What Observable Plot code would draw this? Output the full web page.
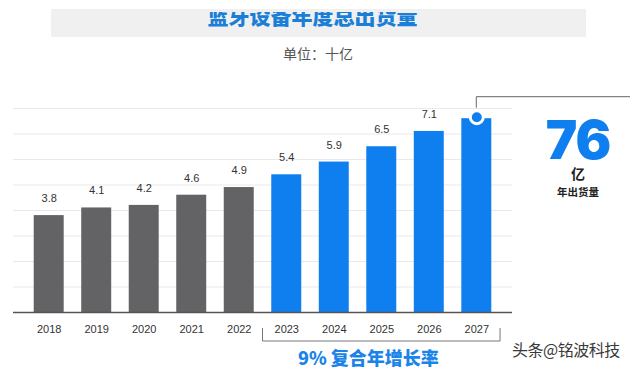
<!DOCTYPE html>
<html>
<head>
<meta charset="utf-8">
<script src="https://cdn.jsdelivr.net/npm/d3@7"></script>
<script src="https://cdn.jsdelivr.net/npm/@observablehq/plot@0.6"></script>
<style>
  html, body { margin: 0; padding: 0; background: #fff; }
  body { width: 640px; height: 368px; overflow: hidden; position: relative;
         font-family: "Liberation Sans", "Noto Sans CJK SC", sans-serif; }
  .abs { position: absolute; white-space: nowrap; }
  #band { left: 51px; top: 9px; width: 535px; height: 28px; background: #f0f0f0; }
  #titleclip { left: 51px; top: 11.5px; width: 535px; height: 25px; overflow: hidden; }
  #title { position: absolute; left: 0; width: 100%; top: -7px; text-align: center; padding-right: 12px; box-sizing: border-box;
           font-family: "Noto Sans CJK SC", sans-serif; font-weight: 900; font-size: 21px; line-height: 21px; color: #1b7fd8; }
  #subtitle { left: 0; width: 640px; top: 44px; text-align: center; padding-right: 4px; box-sizing: border-box;
              font-family: "Noto Sans CJK SC", sans-serif; font-size: 14px; line-height: 18px; color: #555; }
  #chart { left: 0; top: 70px; }
  #big { left: 530px; width: 96px; top: 119px; text-align: center; font-family: Inter, sans-serif; font-weight: 900;
         font-size: 53px; line-height: 42px; color: #0f7fef; letter-spacing: -1px; }
  #unit { left: 530px; width: 96px; top: 166px; text-align: center; font-family: "Noto Sans CJK SC", sans-serif; font-weight: 700;
          font-size: 14px; line-height: 15px; color: #222; }
  #unit2 { left: 530px; width: 96px; top: 185px; text-align: center; font-family: "Noto Sans CJK SC", sans-serif; font-weight: 700;
          font-size: 10.5px; line-height: 14px; color: #222; }
  #cagr { left: 298px; top: 348px; font-family: "Noto Sans CJK SC", sans-serif; font-weight: 900;
          font-size: 18px; line-height: 18px; color: #1b84e8; }
  #wm { left: 512px; top: 339px; font-family: "Noto Sans CJK SC", sans-serif; font-size: 16px; line-height: 20px;
        color: #3a3a3a; text-shadow: 0 0 2px #fff, 0 0 2px #fff; letter-spacing: -0.5px; }
</style>
</head>
<body>
<div id="band" class="abs"></div>
<div id="titleclip" class="abs"><div id="title">蓝牙设备年度总出货量</div></div>
<div id="subtitle" class="abs">单位：十亿</div>
<div id="chart" class="abs"></div>
<div id="big" class="abs">76</div>
<div id="unit" class="abs">亿</div>
<div id="unit2" class="abs">年出货量</div>
<div id="cagr" class="abs">9% 复合年增长率</div>
<div id="wm" class="abs">头条@铭波科技</div>
<script>
const years = ["2018","2019","2020","2021","2022","2023","2024","2025","2026","2027"];
const shipments = [3.8, 4.1, 4.2, 4.6, 4.9, 5.4, 5.9, 6.5, 7.1, 7.6];
const periods = ["历史","历史","历史","历史","历史","预测","预测","预测","预测","预测"];
const valueLabels = ["3.8","4.1","4.2","4.6","4.9","5.4","5.9","6.5","7.1",""];
const gridTicks = [1, 2, 3, 4, 5, 6, 7, 8];
const highlightYear = "2027";
const forecastStart = "2023";
const forecastEnd = "2027";

const data = years.map((y, i) => ({year: y, value: shipments[i], period: periods[i], label: valueLabels[i]}));
const last = data.find(d => d.year === highlightYear);

const BLUE = "#0f7fef", GRAY = "#636366";

const chart = Plot.plot({
  width: 640,
  height: 298,
  marginTop: 38,
  marginBottom: 56,
  marginLeft: 13,
  marginRight: 128,
  style: {fontFamily: "'Liberation Sans', 'Noto Sans CJK SC', sans-serif", background: "transparent"},
  x: {domain: years, paddingInner: 0.369, paddingOuter: 0.436, round: false, label: null},
  y: {domain: [0, 8], axis: null},
  color: {domain: ["历史","预测"], range: [GRAY, BLUE]},
  marks: [
    Plot.ruleY(gridTicks, {stroke: "#e9e9e9", strokeWidth: 1}),
    Plot.barY(data, {x: "year", y: "value", fill: "period"}),
    Plot.ruleY([0], {stroke: "#555", strokeWidth: 1.5}),
    Plot.text(data, {x: "year", y: "value", text: "label", dy: -17, fontSize: 11, fill: "#333"}),
    Plot.axisX({tickSize: 0, tickPadding: 13, fontSize: 11, color: "#333"}),
    Plot.dot([last], {x: "year", y: "value", r: 6.5, fill: BLUE, stroke: "#fff", strokeWidth: 3, dy: -1.5})
  ]
});
document.getElementById("chart").appendChild(chart);

// callout and bracket using the plot's own scales
const xs = chart.scale("x"), ys = chart.scale("y");
const svg = d3.select(chart);
const bw = xs.bandwidth, step = xs.step;
const cx = xs.apply(highlightYear) + bw / 2;
const cy = ys.apply(last.value) - 1.5;
svg.append("path")
  .attr("d", `M${cx},${cy - 9}V${cy - 20}H630`)
  .attr("fill", "none").attr("stroke", "#666").attr("stroke-width", 1);

const y0 = ys.apply(0);
const bx0 = xs.apply(forecastStart) - (step - bw) / 2;
const bx1 = xs.apply(forecastEnd) + bw + (step - bw) / 2;
svg.append("path")
  .attr("d", `M${bx0},${y0 + 16}V${y0 + 29}H${bx1}V${y0 + 16}`)
  .attr("fill", "none").attr("stroke", "#777").attr("stroke-width", 1);
</script>
</body>
</html>
